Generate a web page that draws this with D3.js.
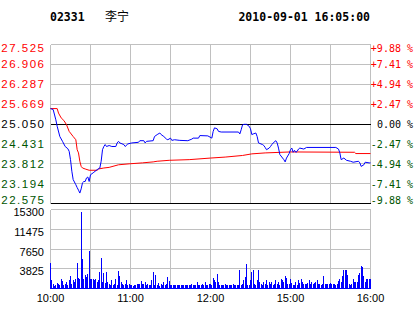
<!DOCTYPE html>
<html>
<head>
<meta charset="utf-8">
<script src="https://cdn.jsdelivr.net/npm/d3@7"></script>
<style>
  body { margin: 0; background: #fff; }
  svg { display: block; }
</style>
</head>
<body>
<div id="chart"></div>
<script>
var svgWidth = 414;
var svgHeight = 314;

// header
var code = "02331";
var stockName = "李宁";
var stamp = "2010-09-01 16:05:00";

// axes
var prevClose = 25.05;
var priceTicks = [27.525, 26.906, 26.287, 25.669, 25.050, 24.431, 23.812, 23.194, 22.575];
var pctLabels = ["+9.88 %", "+7.41 %", "+4.94 %", "+2.47 %", "0.00 %", "-2.47 %", "-4.94 %", "-7.41 %", "-9.88 %"];
var volTicks = [15300, 11475, 7650, 3825, 0];
var timeTicks = [0, 60, 120, 180, 240];
var timeLabels = ["10:00", "11:00", "12:00", "15:00", "16:00"];
var gridMinutes = [0, 30, 60, 90, 120, 150, 180, 210, 240];

// price line (minute of session, price)
var priceMin = [0,2,4,5,7,9,11,13,14,15,16,17,19,20,21,22,23,24,25,26,27,28,29,30,32,35,37,38,39,40,41,42,44,46,49,50,51,52,55,56,58,61,66,67,70,71,72,77,78,80,82,83,85,87,88,90,91,93,97,103,106,107,111,112,118,121,122,123,125,126,128,141,142,143,144,145,147,149,150,151,152,154,155,156,159,160,161,162,164,165,166,167,169,170,171,172,175,176,177,179,180,181,182,183,184,185,186,187,190,192,214,216,217,218,220,222,225,227,231,232,233,235,236,239,240];
var price = [25.53,25.50,25.18,24.98,24.66,24.51,24.35,24.28,24.20,23.94,23.58,23.32,23.16,23.07,22.99,22.90,23.03,23.22,23.26,23.26,23.37,23.40,23.26,23.47,23.53,23.63,23.68,23.89,24.25,24.35,24.41,24.35,24.38,24.35,24.35,24.46,24.51,24.46,24.41,24.35,24.43,24.46,24.48,24.53,24.53,24.46,24.51,24.53,24.66,24.72,24.77,24.72,24.66,24.58,24.56,24.61,24.54,24.56,24.54,24.53,24.58,24.61,24.61,24.69,24.68,24.61,24.82,24.93,24.90,24.82,24.80,24.80,24.74,24.87,25.02,25.04,25.04,24.98,24.90,24.72,24.74,24.77,24.66,24.46,24.41,24.38,24.32,24.25,24.30,24.35,24.41,24.46,24.53,24.46,24.30,24.10,23.94,23.87,23.99,24.13,24.25,24.30,24.17,24.23,24.17,24.20,24.27,24.30,24.27,24.32,24.32,24.27,24.15,23.94,23.99,23.92,23.89,23.86,23.89,23.84,23.73,23.78,23.86,23.84,23.84];

// average price line
var avgMin = [0,5,6,8,10,12,14,17,19,20,21,22,23,24,26,29,35,36,40,44,51,59,69,77,80,89,104,120,131,144,151,161,180,228,229,240];
var avgPrice = [25.53,25.53,25.39,25.24,25.16,25.03,24.82,24.66,24.56,24.25,24.15,23.89,23.73,23.68,23.65,23.61,23.61,23.65,23.68,23.70,23.78,23.81,23.84,23.87,23.89,23.92,23.94,23.99,24.02,24.07,24.12,24.15,24.18,24.17,24.13,24.13];

// volume, one value per minute 0..240
var volume = [
  4900,1600,800,500,650,1100,800,600,1900,1450,650,950,1270,700,1600,2350,950,1600,1270,1900,
  4900,2100,1900,14800,5740,1900,2550,2200,2740,7330,1900,1750,1900,1600,1900,1270,1600,3180,5930,1200,
  2990,1000,3180,1270,950,650,1600,650,800,1900,650,3370,2350,1270,800,650,950,1600,650,950,
  700,650,500,650,650,800,800,900,1450,800,950,1270,700,950,650,700,1600,3180,650,2550,
  650,1100,500,800,650,1270,650,950,2200,1450,650,650,600,650,700,650,650,600,650,700,
  650,650,600,650,700,650,800,650,650,700,1270,650,650,700,950,650,1270,650,700,950,
  800,650,2100,1600,1270,2740,1270,650,650,700,650,950,650,650,700,650,650,950,650,700,
  650,650,3630,700,950,1600,2200,4780,650,650,1600,3180,3630,950,650,1600,3630,1270,800,650,
  1270,950,1600,700,1270,950,1270,700,950,1600,800,1270,700,1900,1600,1270,2350,2100,800,950,
  1900,1100,650,700,1270,650,1600,1100,1750,1270,950,800,950,1100,1600,950,1270,800,1100,1270,
  1600,800,950,650,800,2350,950,800,950,800,1100,950,950,800,650,950,1450,1900,1270,2350,
  3630,3500,3630,2550,950,650,950,1900,1270,1270,1270,2550,2990,4270,4080,2350,1270,1750,1900,1900,
  1900
];

var left = 50.5, right = 370.5;
var priceTop = 44.5, priceBottom = 203.5;
var volTop = 209.5, volBottom = 288.5;

var svg = d3.select("#chart")
  .append("svg")
  .attr("width", svgWidth)
  .attr("height", svgHeight);

var xScale = d3.scaleLinear().domain([0, 240]).range([left, right]);
var yPrice = d3.scaleLinear().domain([22.575, 27.525]).range([priceBottom, priceTop]);
var yVol = d3.scaleLinear().domain([0, 15300]).range([volBottom, volTop]);

var grid = svg.append("g")
  .attr("shape-rendering", "crispEdges")
  .attr("stroke", "#c0c0c0")
  .attr("stroke-width", 1);

// vertical grid in both panes
gridMinutes.forEach(function(m) {
  grid.append("line")
    .attr("x1", xScale(m)).attr("x2", xScale(m))
    .attr("y1", priceTop).attr("y2", priceBottom);
  grid.append("line")
    .attr("x1", xScale(m)).attr("x2", xScale(m))
    .attr("y1", volTop).attr("y2", volBottom);
});

// horizontal price grid
priceTicks.forEach(function(p) {
  grid.append("line")
    .attr("x1", left).attr("x2", right)
    .attr("y1", yPrice(p)).attr("y2", yPrice(p))
    .attr("stroke", (p === prevClose || p === 22.575) ? "#000" : "#c0c0c0");
});

// horizontal volume grid
volTicks.forEach(function(v) {
  grid.append("line")
    .attr("x1", left).attr("x2", right)
    .attr("y1", yVol(v)).attr("y2", yVol(v));
});

// volume bars
svg.append("g")
  .attr("shape-rendering", "crispEdges")
  .selectAll("rect")
  .data(volume)
  .enter()
  .append("rect")
  .attr("x", (d, i) => Math.floor(xScale(i)))
  .attr("y", d => yVol(d))
  .attr("width", 1)
  .attr("height", d => volBottom - yVol(d))
  .attr("fill", "#0000ff");

svg.append("line")
  .attr("shape-rendering", "crispEdges")
  .attr("x1", left).attr("x2", right)
  .attr("y1", volBottom).attr("y2", volBottom)
  .attr("stroke", "#0000ff");

// lines
var avgLine = d3.line()
  .x((d, i) => xScale(avgMin[i]))
  .y(d => yPrice(d));

var priceLine = d3.line()
  .x((d, i) => xScale(priceMin[i]))
  .y(d => yPrice(d));

svg.append("path")
  .attr("d", avgLine(avgPrice))
  .attr("fill", "none")
  .attr("stroke", "#ff0000")
  .attr("stroke-width", 1);

svg.append("path")
  .attr("d", priceLine(price))
  .attr("fill", "none")
  .attr("stroke", "#0000ff")
  .attr("stroke-width", 1);

// price labels, left
function labelColor(i) {
  if (i < 4) return "#ff0000";
  if (i === 4) return "#000000";
  return "#005500";
}
function labelShift(i) {
  if (i === 0) return 7;
  if (i === priceTicks.length - 1) return 0;
  return 4;
}

svg.append("g")
  .selectAll("text")
  .data(priceTicks)
  .enter()
  .append("text")
  .attr("x", 45.5)
  .attr("y", (d, i) => yPrice(d) + labelShift(i))
  .attr("text-anchor", "end")
  .attr("font-family", "Liberation Sans, Arial, sans-serif")
  .attr("font-size", "11.5px")
  .attr("letter-spacing", "1.5px")
  .attr("fill", (d, i) => labelColor(i))
  .text(d => d.toFixed(3));

// percent labels, right
svg.append("g")
  .selectAll("text")
  .data(pctLabels)
  .enter()
  .append("text")
  .attr("x", 413)
  .attr("y", (d, i) => yPrice(priceTicks[i]) + labelShift(i))
  .attr("text-anchor", "end")
  .attr("font-family", "DejaVu Sans Mono, monospace")
  .attr("font-size", "10px")
  .attr("fill", (d, i) => labelColor(i))
  .text(d => d);

// volume labels
svg.append("g")
  .selectAll("text")
  .data(volTicks.slice(0, 4))
  .enter()
  .append("text")
  .attr("x", 44)
  .attr("y", d => yVol(d) + 6.5)
  .attr("text-anchor", "end")
  .attr("font-family", "Liberation Sans, Arial, sans-serif")
  .attr("font-size", "11px")
  .attr("fill", "#000")
  .text(d => d);

// time labels
svg.append("g")
  .selectAll("text")
  .data(timeTicks)
  .enter()
  .append("text")
  .attr("x", d => xScale(d))
  .attr("y", 302)
  .attr("text-anchor", "middle")
  .attr("font-family", "Liberation Sans, Arial, sans-serif")
  .attr("font-size", "11px")
  .attr("fill", "#000")
  .text((d, i) => timeLabels[i]);

// header
svg.append("text")
  .attr("x", 50)
  .attr("y", 21)
  .attr("font-family", "DejaVu Sans Mono, monospace")
  .attr("font-weight", "bold")
  .attr("font-size", "11.5px")
  .text(code);

svg.append("text")
  .attr("x", 105)
  .attr("y", 21)
  .attr("font-family", "Noto Sans CJK SC, sans-serif")
  .attr("font-size", "12px")
  .text(stockName);

svg.append("text")
  .attr("x", 370)
  .attr("y", 21)
  .attr("text-anchor", "end")
  .attr("font-family", "DejaVu Sans Mono, monospace")
  .attr("font-weight", "bold")
  .attr("font-size", "11.5px")
  .text(stamp);
</script>
</body>
</html>
